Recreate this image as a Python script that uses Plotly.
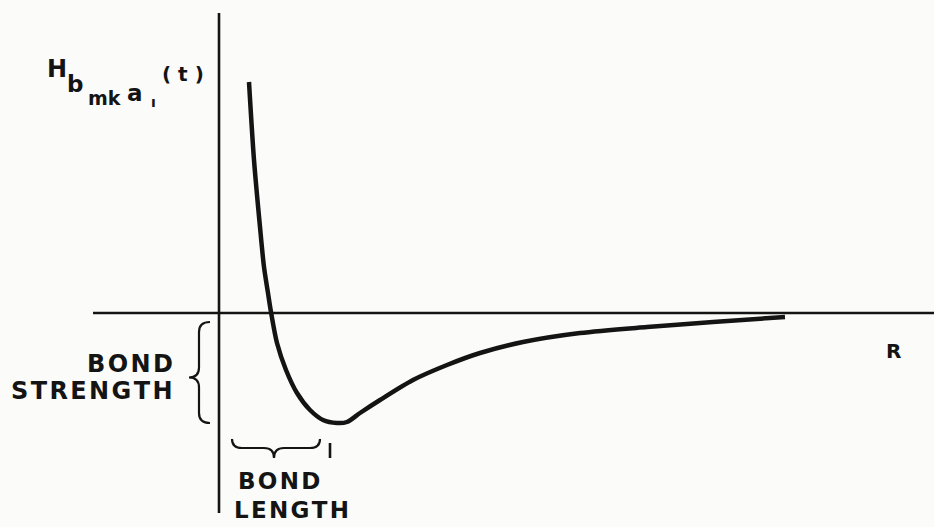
import plotly.graph_objects as go

# ---- data (arbitrary units) ----
R_vals = [0.30, 0.35, 0.41, 0.45, 0.49, 0.52, 0.58, 0.67, 0.78, 0.91, 1.04, 1.18, 1.28,
          1.41, 1.61, 1.94, 2.28, 2.61, 3.04, 3.61, 4.28, 4.94, 5.66]
H_vals = [2.31, 1.53, 0.86, 0.46, 0.20, 0.01, -0.30, -0.57, -0.80, -0.97, -1.07, -1.10, -1.09,
          -1.00, -0.87, -0.67, -0.52, -0.40, -0.29, -0.20, -0.14, -0.09, -0.04]

R_AXIS_EXTENT = [-1.26, 7.15]   # horizontal axis line
H_AXIS_EXTENT = [-2.00, 3.00]   # vertical axis line
X_RANGE = [-2.19, 7.15]
Y_RANGE = [-2.14, 3.13]

INK = "#141414"
PAPER = "#fbfbfa"
FONT = "DejaVu Sans"
HS = "\u200a"  # hair space for lettering spacing

def spaced(s):
    return HS.join(s)

fig = go.Figure()

# axes lines
fig.add_trace(go.Scatter(x=R_AXIS_EXTENT, y=[0, 0], mode="lines",
                         line=dict(color=INK, width=2.6), hoverinfo="skip"))
fig.add_trace(go.Scatter(x=[0, 0], y=H_AXIS_EXTENT, mode="lines",
                         line=dict(color=INK, width=2.6), hoverinfo="skip"))
# potential curve
fig.add_trace(go.Scatter(x=R_vals, y=H_vals, mode="lines",
                         line=dict(color=INK, width=4.5, shape="spline", smoothing=0.8),
                         hoverinfo="skip"))

# ---- braces derived from the data ----
i_min = H_vals.index(min(H_vals))
H_min = H_vals[i_min]
R_min = R_vals[i_min]

# vertical brace (bond strength): spans from just below the axis to the well depth
yt, yb = -0.09, H_min
ym = (yt + yb) / 2 - 0.05
xr, xs, xt = -0.09, -0.20, -0.30
c = 0.10
vpath = (f"M {xr},{yt} Q {xs},{yt} {xs},{yt - c} L {xs},{ym + c} "
         f"Q {xs},{ym} {xt},{ym} Q {xs},{ym} {xs},{ym - c} "
         f"L {xs},{yb + c} Q {xs},{yb} {xr},{yb}")

# horizontal brace (bond length)
xl, xrr = 0.13, R_min - 0.17
xm = (xl + xrr) / 2 - 0.02
yend, ysp, ytip = -1.26, -1.35, -1.45
hpath = (f"M {xl},{yend} Q {xl},{ysp} {xl + c},{ysp} L {xm - c},{ysp} "
         f"Q {xm},{ysp} {xm},{ytip} Q {xm},{ysp} {xm + c},{ysp} "
         f"L {xrr - c},{ysp} Q {xrr},{ysp} {xrr},{yend}")

shapes = [
    dict(type="path", path=vpath, xref="x", yref="y", line=dict(color=INK, width=2.2)),
    dict(type="path", path=hpath, xref="x", yref="y", line=dict(color=INK, width=2.2)),
    dict(type="line", xref="x", yref="y", x0=R_min - 0.07, x1=R_min - 0.07,
         y0=-1.30, y1=-1.45, line=dict(color=INK, width=2.6)),
]

def ann(text, x, y, size, xanchor="center"):
    return dict(text=text, x=x, y=y, xref="x", yref="y", showarrow=False,
                xanchor=xanchor, yanchor="middle",
                font=dict(family=FONT, size=size, color=INK, weight="bold"))

annotations = [
    ann("H", -1.625, 2.44, 24),
    ann("b", -1.44, 2.29, 23),
    ann("mk", -1.15, 2.155, 19),
    ann("a", -0.84, 2.20, 23),
    ann("\u0131", -0.655, 2.115, 14),
    ann("( t )", -0.365, 2.39, 20),
    ann(spaced("BOND"), -0.44, -0.505, 24, xanchor="right"),
    ann(spaced("STRENGTH"), -0.44, -0.78, 24, xanchor="right"),
    ann(spaced("BOND"), 0.60, -1.68, 23),
    ann(spaced("LENGTH"), 0.72, -1.97, 23),
    ann("R", 6.74, -0.375, 20),
]

fig.update_layout(
    width=934, height=527,
    margin=dict(l=0, r=0, t=0, b=0),
    paper_bgcolor=PAPER, plot_bgcolor=PAPER,
    showlegend=False,
    xaxis=dict(range=X_RANGE, visible=False, fixedrange=True),
    yaxis=dict(range=Y_RANGE, visible=False, fixedrange=True),
    shapes=shapes,
    annotations=annotations,
)

fig.write_html("out.html", config={"displayModeBar": False},
               post_script="document.body.style.margin='0px';document.body.style.overflow='hidden';")
